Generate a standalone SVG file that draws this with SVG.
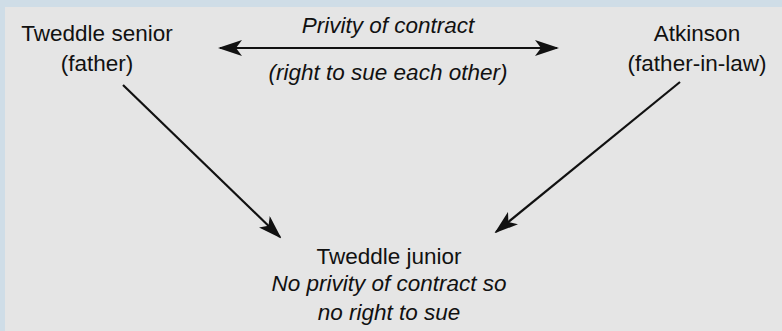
<svg xmlns="http://www.w3.org/2000/svg" width="782" height="331" viewBox="0 0 782 331">
<style>
  text { font-family: "Liberation Sans", "DejaVu Sans", sans-serif; font-size: 22.5px; fill: #111; text-anchor: middle; }
  .it { font-style: italic; }
  .conn { stroke: #111; stroke-width: 2.2; fill: none; }
</style>
<defs>
  <marker id="ah" viewBox="0 0 24 16" refX="22" refY="8" markerWidth="24" markerHeight="16" markerUnits="userSpaceOnUse" orient="auto-start-reverse">
    <path d="M0,0 L24,8 L0,16 L6,8 Z" fill="#111"/>
  </marker>
</defs>
<rect x="0" y="0" width="782" height="331" fill="#cfdde7"/>
<rect x="5" y="7" width="777" height="324" fill="#e5e5e5"/>
<g id="connectors">
  <line class="conn" x1="220" y1="48" x2="557" y2="48" marker-start="url(#ah)" marker-end="url(#ah)"/>
  <line class="conn" x1="123" y1="85" x2="280" y2="237" marker-end="url(#ah)"/>
  <line class="conn" x1="680" y1="82" x2="496" y2="232" marker-end="url(#ah)"/>
</g>
<g id="tweddle-senior">
  <text x="97" y="41">Tweddle senior</text>
  <text x="97" y="71">(father)</text>
</g>
<g id="atkinson">
  <text x="697" y="41">Atkinson</text>
  <text x="697" y="71">(father-in-law)</text>
</g>
<g id="privity-label">
  <text class="it" x="388" y="33">Privity of contract</text>
  <text class="it" x="388" y="80">(right to sue each other)</text>
</g>
<g id="tweddle-junior">
  <text x="389" y="264">Tweddle junior</text>
  <text class="it" x="389" y="291">No privity of contract so</text>
  <text class="it" x="389" y="320">no right to sue</text>
</g>
</svg>
